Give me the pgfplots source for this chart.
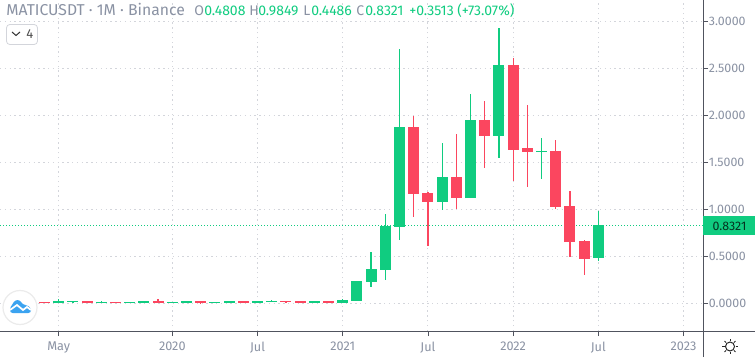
\documentclass[border=0pt]{standalone}
\usepackage{fontspec}
\setmainfont{Fira Sans}
\usepackage{pgfplots}
\usepackage{pgfplotstable}
\pgfplotsset{compat=1.18}
\definecolor{cgreen}{HTML}{10CC80}
\definecolor{cred}{HTML}{FB465F}
\definecolor{cgrid}{HTML}{D3D5DB}
\definecolor{clabel}{HTML}{8A92A3}
\definecolor{caxis}{HTML}{50535E}
\definecolor{cblue}{HTML}{3BA3F0}
% idx open close high low
\pgfplotstableread{
x open close high low
1 0.000 0.025 0.046 0.000
2 0.018 0.025 0.025 0.007
4 0.004 0.014 0.021 0.004
6 0.004 0.014 0.014 0.004
7 0.004 0.025 0.025 0.004
9 0.004 0.014 0.014 0.004
10 0.004 0.025 0.025 0.004
12 0.004 0.014 0.014 0.004
13 0.004 0.025 0.025 0.004
15 0.004 0.025 0.025 0.004
16 0.014 0.025 0.035 0.014
19 0.004 0.025 0.025 0.004
21 0.004 0.035 0.046 0.004
22 0.025 0.238 0.238 0.025
23 0.230 0.365 0.546 0.177
24 0.358 0.823 0.950 0.248
25 0.816 1.876 2.706 0.674
28 1.078 1.344 1.706 0.993
30 1.120 1.950 2.227 1.120
32 1.780 2.535 2.930 1.546
35 1.610 1.620 1.759 1.320
39 0.4808 0.8321 0.9849 0.4486
}\greentable
\pgfplotstableread{
x open close high low
0 0.017 0.000 0.017 0.000
3 0.025 0.004 0.025 0.004
5 0.014 0.004 0.014 0.004
8 0.025 0.004 0.046 0.004
11 0.025 0.004 0.025 -0.007
14 0.025 0.004 0.025 0.004
17 0.025 0.014 0.025 0.004
18 0.025 0.004 0.025 0.004
20 0.025 0.004 0.025 0.004
26 1.876 1.163 1.993 0.918
27 1.174 1.078 1.184 0.610
29 1.344 1.120 1.800 1.000
31 1.950 1.780 2.152 1.440
33 2.535 1.631 2.610 1.300
34 1.652 1.610 2.110 1.238
36 1.620 1.025 1.738 1.003
37 1.035 0.652 1.195 0.493
38 0.663 0.472 0.674 0.300
}\redtable
\tikzset{lab/.style={font=\fontsize{10.5pt}{12pt}\selectfont,text=clabel,anchor=base west,inner sep=0pt},
val/.style={font=\fontsize{10.5pt}{12pt}\selectfont,text=cgreen,anchor=base west,inner sep=0pt}}
\begin{document}
\begin{tikzpicture}[x=0.75pt,y=0.75pt]
\useasboundingbox (0,0) rectangle (755,357);
\begin{axis}[
  at={(0pt,19.5pt)}, anchor=south west,
  scale only axis, width=527.25pt, height=248.25pt,
  xmin=-3.134, xmax=46.37, ymin=-0.2947, ymax=3.2266,
  axis x line*=bottom, axis y line*=right,
  axis line style={draw=caxis,line width=0.75pt,-},
  xtick={1,9,15,21,27,33,39,45},
  xticklabels={May,2020,Jul,2021,Jul,2022,Jul,2023},
  ytick={0,0.5,1,1.5,2,2.5,3},
  /pgf/number format/.cd,fixed,fixed zerofill,precision=4,assume math mode=true,/pgfplots/.cd,
  yticklabel style={text=clabel,font=\fontsize{9.3pt}{11pt}\selectfont,inner sep=0pt,xshift=0.5pt},
  xticklabel style={text=clabel,font=\fontsize{9.5pt}{11pt}\selectfont,yshift=-1pt},
  tick align=outside, major tick length=3.75pt,
  tick style={draw=caxis,line width=0.6pt},
  grid=major,
  major grid style={draw=cgrid,line width=0.75pt,dash pattern=on 1pt off 2.6pt},
  clip=true,
]
\addplot[forget plot,draw=cgreen,line width=0.75pt,dash pattern=on 0.75pt off 1.5pt] coordinates {(-3.134,0.8321)(46.37,0.8321)};
% green wicks and bodies
\addplot[forget plot,draw=none,no markers,error bars/.cd,y dir=both,y explicit,error mark=none,error bar style={draw=cgreen,line width=0.95pt,line cap=butt,solid}]
  table[x=x,y=open,y error plus expr=\thisrow{high}-\thisrow{open},y error minus expr=\thisrow{open}-\thisrow{low}]{\greentable};
\addplot[forget plot,draw=none,no markers,error bars/.cd,y dir=plus,y explicit,error mark=none,error bar style={draw=cgreen,line width=8.25pt,line cap=butt,solid}]
  table[x=x,y=open,y error plus expr=\thisrow{close}-\thisrow{open}]{\greentable};
% red wicks and bodies
\addplot[forget plot,draw=none,no markers,error bars/.cd,y dir=both,y explicit,error mark=none,error bar style={draw=cred,line width=0.95pt,line cap=butt,solid}]
  table[x=x,y=close,y error plus expr=\thisrow{high}-\thisrow{close},y error minus expr=\thisrow{close}-\thisrow{low}]{\redtable};
\addplot[forget plot,draw=none,no markers,error bars/.cd,y dir=plus,y explicit,error mark=none,error bar style={draw=cred,line width=8.25pt,line cap=butt,solid}]
  table[x=x,y=close,y error plus expr=\thisrow{open}-\thisrow{close}]{\redtable};
\end{axis}
% pane separators
\draw[caxis,line width=0.75pt] (0,26) -- (755,26);
\draw[caxis,line width=0.75pt] (703,0) -- (703,357);
% last price tag
\fill[cgreen] (703,122) rectangle (755,141);
\node[font=\fontsize{9.3pt}{11pt}\selectfont,text=black!75!cgreen,anchor=base,inner sep=0pt] at (729.5,127) {0.8321};
% header
\node[lab,font=\fontsize{11.8pt}{13pt}\selectfont] at (6,341) {MATICUSDT · 1M · Binance};
\node[lab] at (194,341) {O};\node[val] at (204,341) {0.4808};
\node[lab] at (249,341) {H};\node[val] at (258,341) {0.9849};
\node[lab] at (303,341) {L};\node[val] at (311,341) {0.4486};
\node[lab] at (356,341) {C};\node[val] at (365,341) {0.8321};
\node[val] at (409,341) {+0.3513 (+73.07\%)};
% collapse button
\draw[cgrid,fill=white,line width=0.6pt,rounded corners=2.5pt] (6.5,312.5) rectangle (37.5,332.5);
\draw[black!80,line width=0.75pt] (12,325) -- (16,321.5) -- (20,325);
\node[font=\fontsize{9.75pt}{11pt}\selectfont,text=black!70,anchor=base west,inner sep=0pt] at (26,318) {4};
% logo
\draw[black!8,fill=white,line width=0.9pt] (20,49.5) circle (17);
\fill[cblue,rounded corners=2pt] (10,44) -- (31,44) -- (31,49) -- (27,52) -- (23,52) -- (20,57) -- (15,57) -- (12,52) -- (10,49) -- cycle;
\draw[white,line width=1.3pt] (10,47) -- (17,52) -- (23,47) -- (27,50) -- (31,47);
% settings icon
\draw[black!85,line width=0.75pt] (730,10.5) circle (4.5);
\foreach \a in {0,45,...,315} \draw[black!85,line width=0.75pt] (730,10.5)++(\a:5.5) -- ++(\a:2.2);
\end{tikzpicture}
\end{document}
